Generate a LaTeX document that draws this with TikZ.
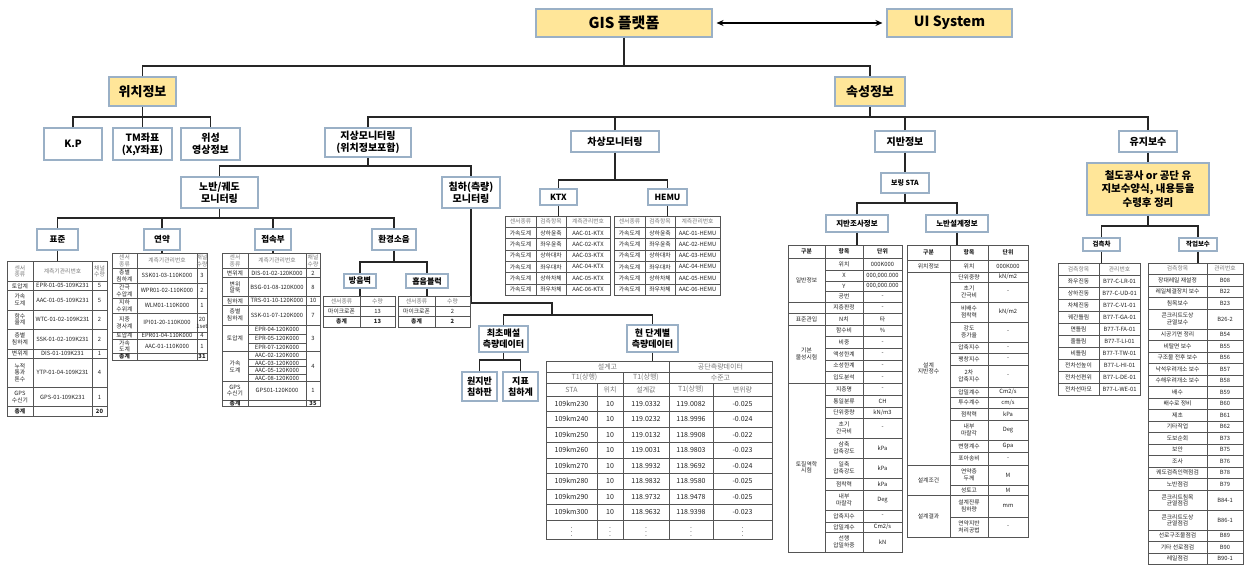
\documentclass[tikz,border=0pt]{standalone}
\usepackage{fontspec}
\setmainfont{Noto Sans CJK KR}
\usetikzlibrary{arrows.meta}
\definecolor{ybox}{HTML}{FFE699}
\definecolor{bline}{HTML}{9AB0C6}
\definecolor{tline}{HTML}{555555}
\definecolor{hdr}{HTML}{7A7A7A}
\definecolor{ctx}{HTML}{222222}
\newcommand\tfs{\fontsize{5.8}{6.4}\selectfont}
\newcommand\bsz[2]{\bfseries\fontsize{#1}{#2}\selectfont}
\tikzset{
 box/.style={draw=bline, line width=1.1pt, fill=white, align=center, inner sep=1pt, text=black},
 ybx/.style={box, fill=ybox},
 conn/.style={draw=black!85, line width=1.3pt},
 conn2/.style={draw=black!85, line width=1.1pt},
 tl/.style={draw=tline, line width=0.55pt},
 ct/.style={font=\tfs, text=ctx, align=center, inner sep=0pt},
 hc/.style={ct, text=hdr},
}
\newcommand\tcell[5]{\draw[tl] (#1,#2) rectangle (#3,#4); \node[ct] at ({(#1+#3)/2},{(#2+#4)/2}) {#5};}
\newcommand\hcell[5]{\draw[tl] (#1,#2) rectangle (#3,#4); \node[hc] at ({(#1+#3)/2},{(#2+#4)/2}) {#5};}
\newcommand\rthree[5]{\tcell{\xA}{#1}{\xB}{#2}{#3}\tcell{\xB}{#1}{\xC}{#2}{#4}\tcell{\xC}{#1}{\xD}{#2}{#5}}
\newcommand\hthree[5]{\hcell{\xA}{#1}{\xB}{#2}{#3}\hcell{\xB}{#1}{\xC}{#2}{#4}\hcell{\xC}{#1}{\xD}{#2}{#5}}
\newcommand\rtwo[4]{\tcell{\xA}{#1}{\xB}{#2}{#3}\tcell{\xB}{#1}{\xC}{#2}{#4}}
\newcommand\htwo[4]{\hcell{\xA}{#1}{\xB}{#2}{#3}\hcell{\xB}{#1}{\xC}{#2}{#4}}
\newcommand\rlast[4]{\tcell{\xB}{#1}{\xC}{#2}{#3}\tcell{\xC}{#1}{\xD}{#2}{#4}}
\newcommand\rfive[7]{\tcell{\xA}{#1}{\xB}{#2}{#3}\tcell{\xB}{#1}{\xC}{#2}{#4}\tcell{\xC}{#1}{\xD}{#2}{#5}\tcell{\xD}{#1}{\xE}{#2}{#6}\tcell{\xE}{#1}{\xF}{#2}{#7}}
\newcommand\hfive[7]{\hcell{\xA}{#1}{\xB}{#2}{#3}\hcell{\xB}{#1}{\xC}{#2}{#4}\hcell{\xC}{#1}{\xD}{#2}{#5}\hcell{\xD}{#1}{\xE}{#2}{#6}\hcell{\xE}{#1}{\xF}{#2}{#7}}
\begin{document}
\begin{tikzpicture}[x=1pt,y=-1pt]
\useasboundingbox (0,0) rectangle (1244,570);
\fill[white] (0,0) rectangle (1244,570);

% ---------- top level
\node[ybx, minimum width=176, minimum height=28, font={\bsz{15}{17}}] (gis) at (624,23) {GIS 플랫폼};
\node[ybx, minimum width=125, minimum height=28, font={\bsz{14}{16}}] (ui) at (949.5,23) {UI System};
\draw[line width=1.6pt, {Stealth[length=7pt,width=6pt]}-{Stealth[length=7pt,width=6pt]}] ([xshift=4pt]gis.east) -- ([xshift=-4pt]ui.west);

\node[ybx, minimum width=67, minimum height=29, font={\bsz{13}{15}}] (wichi) at (142.5,91.5) {위치정보};
\node[ybx, minimum width=70, minimum height=29, font={\bsz{13}{15}}] (sokseong) at (870,91.5) {속성정보};
\coordinate (b1) at (624,66);
\draw[conn] (gis.south) -- (b1);
\draw[conn] (wichi.north) |- (b1) -| (sokseong.north);

% ---------- location info children
\node[box, minimum width=58, minimum height=32, font={\bsz{10}{12}}] (kp) at (73,144) {K.P};
\node[box, minimum width=59, minimum height=32, font={\bsz{10}{12}}] (tm) at (142.5,144) {TM좌표\\(X,Y좌표)};
\node[box, minimum width=59, minimum height=32, font={\bsz{10}{12}}] (wiseong) at (210.5,144) {위성\\영상정보};
\coordinate (b2) at (142.5,117);
\draw[conn] (wichi.south) -- (b2);
\draw[conn] (kp.north) |- (b2) -| (wiseong.north);
\draw[conn] (tm.north) -- (b2);

% ---------- attribute children
\node[box, minimum width=86, minimum height=29, font={\bsz{10}{12}}] (jisang) at (368,142.5) {지상모니터링\\(위치정보포함)};
\node[box, minimum width=88, minimum height=21, font={\bsz{10}{12}}] (chasang) at (615,141.5) {차상모니터링};
\node[box, minimum width=60, minimum height=21, font={\bsz{10}{12}}] (jiban) at (905,141.5) {지반정보};
\node[box, minimum width=58, minimum height=21, font={\bsz{10}{12}}] (yuji) at (1148,141.5) {유지보수};
\coordinate (b3) at (870,117);
\draw[conn] (sokseong.south) -- (b3);
\draw[conn] (jisang.north) |- (b3) -| (yuji.north);
\draw[conn] (chasang.north) -- (chasang.north |- b3);
\draw[conn] (jiban.north) -- (jiban.north |- b3);

% ---------- ground monitoring
\node[box, minimum width=77, minimum height=31, font={\bsz{10}{12}}] (nobangwe) at (219.5,192.5) {노반/궤도\\모니터링};
\node[box, minimum width=58, minimum height=31, font={\bsz{10}{12}}] (chimha) at (471,192.5) {침하(측량)\\모니터링};
\coordinate (b4) at (368,166);
\draw[conn] (jisang.south) -- (b4);
\draw[conn] (nobangwe.north) |- (b4) -| (chimha.north);

\node[box, minimum width=41, minimum height=21, font={\bsz{8.5}{10}}] (pyojun) at (57.5,239.5) {표준};
\node[box, minimum width=36, minimum height=21, font={\bsz{8.5}{10}}] (yeonyak) at (162,239.5) {연약};
\node[box, minimum width=36, minimum height=21, font={\bsz{8.5}{10}}] (jeopsok) at (273,239.5) {접속부};
\node[box, minimum width=44, minimum height=21, font={\bsz{8.5}{10}}] (hwangyeong) at (394,239.5) {환경소음};
\coordinate (b5) at (219.5,218);
\draw[conn] (nobangwe.south) -- (b5);
\draw[conn] (pyojun.north) |- (b5) -| (hwangyeong.north);
\draw[conn] (yeonyak.north) -- (yeonyak.north |- b5);
\draw[conn] (jeopsok.north) -- (jeopsok.north |- b5);

\node[box, minimum width=32, minimum height=14, font={\bsz{8}{9}}] (bangeum) at (360,281) {방음벽};
\node[box, minimum width=42, minimum height=14, font={\bsz{8}{9}}] (heupeum) at (427,281) {흡음블럭};
\coordinate (b6) at (394,262);
\draw[conn2] (hwangyeong.south) -- (b6);
\draw[conn2] (bangeum.north) |- (b6) -| (heupeum.north);

% table connectors (left)
\coordinate (tA) at (57.5,261);
\coordinate (tB) at (162,253.3);
\coordinate (tC) at (273,253.3);
\coordinate (tD) at (360,296);
\coordinate (tE) at (427,296);
\draw[conn2] (pyojun.south) -- (tA);
\draw[conn2] (yeonyak.south) -- (tB);
\draw[conn2] (jeopsok.south) -- (tC);
\draw[conn2] (bangeum.south) -- (tD);
\draw[conn2] (heupeum.south) -- (tE);

% ---------- settlement monitoring
\node[box, minimum width=49, minimum height=26, font={\bsz{9}{11}}] (choecho) at (503.5,339) {최초매설\\측량데이터};
\node[box, minimum width=51, minimum height=27, font={\bsz{9}{11}}] (hyeon) at (652.5,338.5) {현 단계별\\측량데이터};
\coordinate (c1) at (471,303);
\coordinate (c2) at (552,303);
\coordinate (b8) at (552,315);
\draw[conn] (chimha.south) -- (c1) -- (c2) -- (b8);
\draw[conn] (choecho.north) |- (b8) -| (hyeon.north);
\node[box, minimum width=35, minimum height=29, font={\bsz{9}{11}}] (wonjiban) at (479.5,386.5) {원지반\\침하판};
\node[box, minimum width=35, minimum height=29, font={\bsz{9}{11}}] (jipyo) at (520.5,386.5) {지표\\침하계};
\coordinate (b9) at (503.5,360);
\draw[conn2] (choecho.south) -- (b9);
\draw[conn2] (wonjiban.north) |- (b9) -| (jipyo.north);
\coordinate (tG) at (652.5,361);
\draw[conn2] (hyeon.south) -- (tG);

% ---------- on-board monitoring
\node[box, minimum width=37, minimum height=16, font={\bsz{8.5}{10}}] (ktx) at (558.5,197) {KTX};
\node[box, minimum width=39, minimum height=16, font={\bsz{8.5}{10}}] (hemu) at (667.5,197) {HEMU};
\coordinate (b7) at (615,180);
\draw[conn] (chasang.south) -- (b7);
\draw[conn] (ktx.north) |- (b7) -| (hemu.north);
\coordinate (tF) at (558.5,216);
\coordinate (tF2) at (667.5,216);
\draw[conn2] (ktx.south) -- (tF);
\draw[conn2] (hemu.south) -- (tF2);

% ---------- ground info
\node[box, minimum width=48, minimum height=20, font={\bsz{7}{8.5}}] (boring) at (905,183) {보링 STA};
\draw[conn] (jiban.south) -- (boring.north);
\node[box, minimum width=62, minimum height=17, font={\bsz{7.5}{9}}] (jijo) at (857,223.5) {지반조사정보};
\node[box, minimum width=62, minimum height=17, font={\bsz{7.5}{9}}] (nobanseol) at (957,223.5) {노반설계정보};
\coordinate (b10) at (905,203);
\draw[conn] (boring.south) -- (b10);
\draw[conn] (jijo.north) |- (b10) -| (nobanseol.north);
\coordinate (tH) at (857,245);
\coordinate (tI) at (957,245);
\draw[conn2] (jijo.south) -- (tH);
\draw[conn2] (nobanseol.south) -- (tI);

% ---------- maintenance
\node[ybx, minimum width=122, minimum height=52, font={\bsz{10.5}{13.5}}] (maint) at (1148,189) {철도공사 or 공단 유\\지보수양식, 내용등을\\수령후 정리};
\draw[conn] (yuji.south) -- (maint.north);
\node[box, minimum width=37, minimum height=13, font={\bsz{6.5}{7.5}}] (geomcheuk) at (1101.5,244.5) {검측차};
\node[box, minimum width=38, minimum height=13, font={\bsz{6.5}{7.5}}] (jakeop) at (1198,244.5) {작업보수};
\coordinate (b11) at (1148,226);
\draw[conn] (maint.south) -- (b11);
\draw[conn] (geomcheuk.north) |- (b11) -| (jakeop.north);
\coordinate (tJ) at (1101.5,263);
\coordinate (tK) at (1198,263);
\draw[conn2] (geomcheuk.south) -- (tJ);
\draw[conn2] (jakeop.south) -- (tK);

% ================= TABLES =================
% --- 표준
\def\xA{7}\def\xB{33}\def\xC{92}\def\xD{107}
\hthree{261}{281.7}{센서\\종류}{계측기관리번호}{채널\\수량}
\rthree{281.7}{290}{토압계}{EPR-01-05-109K231}{5}
\rthree{290}{310}{가속\\도계}{AAC-01-05-109K231}{5}
\rthree{310}{329}{함수\\율계}{WTC-01-02-109K231}{2}
\rthree{329}{349}{층별\\침하계}{SSK-01-02-109K231}{2}
\rthree{349}{358.3}{변위계}{DIS-01-109K231}{1}
\rthree{358.3}{387.3}{누적\\통과\\톤수}{YTP-01-04-109K231}{4}
\rthree{387.3}{406.7}{GPS\\수신기}{GPS-01-109K231}{1}
\rthree{406.7}{416.7}{\textbf{총계}}{}{\textbf{20}}

% --- 연약
\def\xA{112}\def\xB{137}\def\xC{197}\def\xD{207}
\hthree{253.3}{268.3}{센서\\종류}{계측기관리번호}{채널\\수량}
\rthree{268.3}{283.3}{층별\\침하계}{SSK01-03-110K000}{3}
\rthree{283.3}{298.3}{간극\\수압계}{WPR01-02-110K000}{2}
\rthree{298.3}{313.3}{지하\\수위계}{WLM01-110K000}{1}
\rthree{313.3}{332.3}{지중\\경사계}{IPI01-20-110K000}{20\\1set}
\rthree{332.3}{339}{토압계}{EPR01-04-110K000}{4}
\rthree{339}{353.3}{가속\\도계}{AAC-01-110K000}{1}
\rthree{353.3}{359.8}{\textbf{총계}}{}{\textbf{31}}

% --- 접속부
\def\xA{222}\def\xB{248}\def\xC{306}\def\xD{320}
\hthree{253.3}{268.3}{센서\\종류}{계측기관리번호}{채널\\수량}
\rthree{268.3}{277.7}{변위계}{DIS-01-02-120K000}{2}
\rthree{277.7}{296.7}{변위\\말뚝}{BSG-01-08-120K000}{8}
\rthree{296.7}{305}{침하계}{TRS-01-10-120K000}{10}
\rthree{305}{325}{층별\\침하계}{SSK-01-07-120K000}{7}
\tcell{\xA}{325}{\xB}{351.7}{토압계}
\tcell{\xB}{325}{\xC}{333.9}{EPR-04-120K000}
\tcell{\xB}{333.9}{\xC}{342.8}{EPR-05-120K000}
\tcell{\xB}{342.8}{\xC}{351.7}{EPR-07-120K000}
\tcell{\xC}{325}{\xD}{351.7}{3}
\tcell{\xA}{351.7}{\xB}{381.7}{가속\\도계}
\tcell{\xB}{351.7}{\xC}{359.2}{AAC-02-120K000}
\tcell{\xB}{359.2}{\xC}{366.7}{AAC-03-120K000}
\tcell{\xB}{366.7}{\xC}{374.2}{AAC-05-120K000}
\tcell{\xB}{374.2}{\xC}{381.7}{AAC-08-120K000}
\tcell{\xC}{351.7}{\xD}{381.7}{4}
\rthree{381.7}{400}{GPS\\수신기}{GPS01-120K000}{1}
\rthree{400}{406.7}{\textbf{총계}}{}{\textbf{35}}

% --- 방음벽
\def\xA{323}\def\xB{360}\def\xC{395}
\htwo{296}{306}{센서종류}{수량}
\rtwo{306}{316}{마이크로폰}{13}
\rtwo{316}{327}{\textbf{총계}}{\textbf{13}}
% --- 흡음블럭
\def\xA{398}\def\xB{435}\def\xC{470}
\htwo{296}{306}{센서종류}{수량}
\rtwo{306}{316}{마이크로폰}{2}
\rtwo{316}{327}{\textbf{총계}}{\textbf{2}}

% --- KTX
\def\xA{505}\def\xB{536}\def\xC{566}\def\xD{610}
\hthree{216}{227.3}{센서종류}{검측항목}{계측관리번호}
\rthree{227.3}{238.6}{가속도계}{상하윤축}{AAC-01-KTX}
\rthree{238.6}{249.9}{가속도계}{좌우윤축}{AAC-02-KTX}
\rthree{249.9}{261.2}{가속도계}{상하대차}{AAC-03-KTX}
\rthree{261.2}{272.5}{가속도계}{좌우대차}{AAC-04-KTX}
\rthree{272.5}{283.8}{가속도계}{상하차체}{AAC-05-KTX}
\rthree{283.8}{295.1}{가속도계}{좌우차체}{AAC-06-KTX}
% --- HEMU
\def\xA{614}\def\xB{645}\def\xC{675}\def\xD{720}
\hthree{216}{227.3}{센서종류}{검측항목}{계측관리번호}
\rthree{227.3}{238.6}{가속도계}{상하윤축}{AAC-01-HEMU}
\rthree{238.6}{249.9}{가속도계}{좌우윤축}{AAC-02-HEMU}
\rthree{249.9}{261.2}{가속도계}{상하대차}{AAC-03-HEMU}
\rthree{261.2}{272.5}{가속도계}{좌우대차}{AAC-04-HEMU}
\rthree{272.5}{283.8}{가속도계}{상하차체}{AAC-05-HEMU}
\rthree{283.8}{295.1}{가속도계}{좌우차체}{AAC-06-HEMU}

% --- 현 단계별 측량데이터
\renewcommand\tfs{\fontsize{7}{8}\selectfont}
\def\xA{546}\def\xB{597}\def\xC{623}\def\xD{669}\def\xE{713}\def\xF{772}
\hcell{\xA}{361}{\xD}{372}{설계고}
\hcell{\xD}{361}{\xF}{372}{공단측량데이터}
\hcell{\xA}{372}{\xC}{383}{T1(상행)}
\hcell{\xC}{372}{\xD}{383}{T1(상행)}
\hcell{\xD}{372}{\xF}{383}{수준고}
\hfive{383}{396}{STA}{위치}{설계값}{T1(상행)}{변위량}
\rfive{396}{411.5}{109km230}{10}{119.0332}{119.0082}{-0.025}
\rfive{411.5}{427}{109km240}{10}{119.0232}{118.9996}{-0.024}
\rfive{427}{442.5}{109km250}{10}{119.0132}{118.9908}{-0.022}
\rfive{442.5}{458}{109km260}{10}{119.0031}{118.9803}{-0.023}
\rfive{458}{473.5}{109km270}{10}{118.9932}{118.9692}{-0.024}
\rfive{473.5}{489}{109km280}{10}{118.9832}{118.9580}{-0.025}
\rfive{489}{504.5}{109km290}{10}{118.9732}{118.9478}{-0.025}
\rfive{504.5}{520}{109km300}{10}{118.9632}{118.9398}{-0.023}
\rfive{520}{539}{\vdots}{\vdots}{\vdots}{\vdots}{\vdots}
\renewcommand\tfs{\fontsize{5.8}{6.4}\selectfont}

% --- 지반조사정보
\def\xA{788}\def\xB{825}\def\xC{863}\def\xD{902}
\rthree{245}{258}{\textbf{구분}}{\textbf{항목}}{\textbf{단위}}
\tcell{\xA}{258}{\xB}{302}{일반정보}
\rlast{258}{270}{위치}{000K000}
\rlast{270}{281}{X}{000,000.000}
\rlast{281}{291}{Y}{000,000.000}
\rlast{291}{302}{공번}{-}
\rthree{302}{313}{}{지층판정}{-}
\rthree{313}{325}{표준관입}{N치}{타}
\tcell{\xA}{325}{\xB}{383}{기본\\물성시험}
\rlast{325}{336.6}{함수비}{\%}
\rlast{336.6}{348.2}{비중}{-}
\rlast{348.2}{359.8}{액성한계}{-}
\rlast{359.8}{371.4}{소성한계}{-}
\rlast{371.4}{383}{입도분석}{-}
\tcell{\xA}{383}{\xB}{552}{토질역학\\시험}
\rlast{383}{395}{지층명}{-}
\rlast{395}{407}{통일분류}{CH}
\rlast{407}{418}{단위중량}{kN/m3}
\rlast{418}{438}{초기\\간극비}{-}
\rlast{438}{458}{삼축\\압축강도}{kPa}
\rlast{458}{478}{일축\\압축강도}{kPa}
\rlast{478}{490}{점착력}{kPa}
\rlast{490}{510}{내부\\마찰각}{Deg}
\rlast{510}{522}{압축지수}{-}
\rlast{522}{532}{압밀계수}{Cm2/s}
\rlast{532}{552}{선행\\압밀하중}{kN}

% --- 노반설계정보
\def\xA{907}\def\xB{950}\def\xC{988}\def\xD{1028}
\rthree{245}{260}{\textbf{구분}}{\textbf{항목}}{\textbf{단위}}
\rthree{260}{272}{위치정보}{위치}{000K000}
\tcell{\xA}{272}{\xB}{465}{설계\\지반정수}
\rlast{272}{282}{단위중량}{kN/m2}
\rlast{282}{302}{초기\\간극비}{-}
\rlast{302}{322}{비배수\\점착력}{kN/m2}
\rlast{322}{342}{강도\\증가율}{-}
\rlast{342}{353}{압축지수}{-}
\rlast{353}{365}{팽창지수}{-}
\rlast{365}{387}{2차\\압축지수}{-}
\rlast{387}{397}{압밀계수}{Cm2/s}
\rlast{397}{408}{투수계수}{cm/s}
\rlast{408}{420}{점착력}{kPa}
\rlast{420}{440}{내부\\마찰각}{Deg}
\rlast{440}{452}{변형계수}{Gpa}
\rlast{452}{465}{포아송비}{-}
\tcell{\xA}{465}{\xB}{495}{설계조건}
\rlast{465}{485}{연약층\\두께}{M}
\rlast{485}{495}{성토고}{M}
\tcell{\xA}{495}{\xB}{537}{설계결과}
\rlast{495}{517}{설계잔류\\침하량}{mm}
\rlast{517}{537}{연약지반\\처리공법}{-}

% --- 검측차
\def\xA{1058}\def\xB{1099}\def\xC{1140}
\htwo{263}{275}{검측항목}{관리번호}
\rtwo{275}{287}{좌우진동}{B77-C-LR-01}
\rtwo{287}{299}{상하진동}{B77-C-UD-01}
\rtwo{299}{311}{차체진동}{B77-C-V1-01}
\rtwo{311}{323}{궤간틀림}{B77-T-GA-01}
\rtwo{323}{335}{면틀림}{B77-T-FA-01}
\rtwo{335}{347}{줄틀림}{B77-T-LI-01}
\rtwo{347}{359}{비틀림}{B77-T-TW-01}
\rtwo{359}{371}{전차선높이}{B77-L-HI-01}
\rtwo{371}{383}{전차선편위}{B77-L-DE-01}
\rtwo{383}{395}{전차선마모}{B77-L-WE-01}

% --- 작업보수
\def\xA{1148}\def\xB{1207}\def\xC{1243}
\htwo{263}{274.5}{검측항목}{관리번호}
\rtwo{274.5}{286}{장대레일 재설정}{B08}
\rtwo{286}{297.5}{레일체결장치 보수}{B22}
\rtwo{297.5}{309}{침목보수}{B23}
\rtwo{309}{329}{콘크리트도상\\균열보수}{B26-2}
\rtwo{329}{340.5}{시공기면 정리}{B54}
\rtwo{340.5}{352}{비탈면 보수}{B55}
\rtwo{352}{363.5}{구조물 전후 보수}{B56}
\rtwo{363.5}{375}{낙석우려개소 보수}{B57}
\rtwo{375}{386.5}{수해우려개소 보수}{B58}
\rtwo{386.5}{398}{배수}{B59}
\rtwo{398}{409.5}{배수로 정비}{B60}
\rtwo{409.5}{421}{제초}{B61}
\rtwo{421}{432.5}{기타작업}{B62}
\rtwo{432.5}{444}{도보순회}{B73}
\rtwo{444}{455.5}{보안}{B75}
\rtwo{455.5}{467}{조사}{B76}
\rtwo{467}{478.5}{궤도검측인력점검}{B78}
\rtwo{478.5}{490}{노반점검}{B79}
\rtwo{490}{510}{콘크리트침목\\균열점검}{B84-1}
\rtwo{510}{530}{콘크리트도상\\균열점검}{B86-1}
\rtwo{530}{541.5}{선로구조물점검}{B89}
\rtwo{541.5}{553}{기타 선로점검}{B90}
\rtwo{553}{564.5}{레일점검}{B90-1}
\end{tikzpicture}
\end{document}
